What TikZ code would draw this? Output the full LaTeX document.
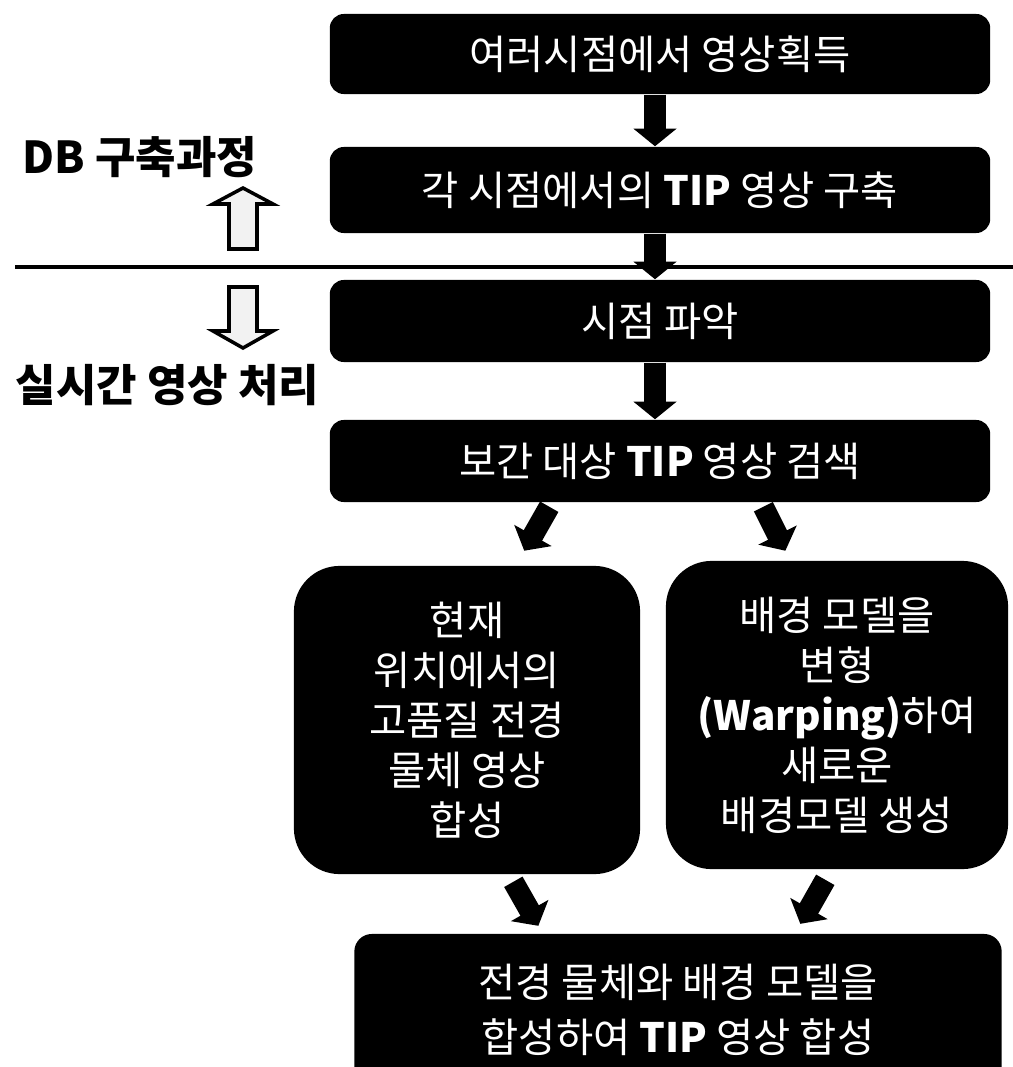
\documentclass[tikz,border=0pt]{standalone}
\usepackage{fontspec}
\setmainfont{Noto Sans CJK KR}
\usetikzlibrary{arrows.meta}
\newcommand\boxfont{\fontsize{11.5}{14.2}\selectfont}
\newcommand\sidefont{\fontsize{12.5}{15}\selectfont\bfseries}
\tikzset{
  stepbox/.style={fill=black, text=white, rounded corners=4pt, inner sep=0pt,
    minimum width=6.6cm, minimum height=0.82cm, font=\boxfont, align=center},
  roundbox/.style={stepbox, rounded corners=13pt},
  flow/.style={line width=6pt, -{Triangle[width=12pt,length=5pt]}},
  hollowarrow/.style={draw=black, line width=1pt, fill=gray!10, line join=miter},
  sidelabel/.style={anchor=west, inner sep=0pt, font=\sidefont},
}
\begin{document}
\begin{tikzpicture}[x=0.01cm, y=-0.01cm]
  \useasboundingbox (0,0) rectangle (1013,1067);

  % DB part
  \node[stepbox, minimum height=0.8cm] (get) at (660,54) {여러시점에서 영상획득};
  \node[stepbox, minimum height=0.86cm] (tip) at (660,190) {각 시점에서의 \textbf{TIP} 영상 구축};
  \draw[flow] ([xshift=-0.05cm]get.south) -- ([xshift=-0.05cm]tip.north);

  % separator
  \coordinate (sepl) at (15,267);
  \coordinate (sepr) at (1013,267);
  \draw[line width=1.4pt] (sepl) -- (sepr);

  % real time part
  \node[stepbox] (view) at (660,321) {시점 파악};
  \node[stepbox] (search) at (660,461) {보간 대상 \textbf{TIP} 영상 검색};
  \draw[flow] ([xshift=-0.05cm]tip.south) -- ([xshift=-0.05cm]view.north);
  \draw[flow] ([xshift=-0.05cm]view.south) -- ([xshift=-0.05cm]search.north);

  \node[roundbox, minimum width=3.46cm, minimum height=3.08cm] (fg) at (467,720)
    {현재\\위치에서의\\고품질 전경\\물체 영상\\합성};
  \node[roundbox, minimum width=3.42cm, minimum height=3.08cm] (bg) at (837,715)
    {배경 모델을\\변형\\\textbf{(Warping)}하여\\새로운\\배경모델 생성};
  \draw[flow] ([xshift=2.2cm,yshift=-0.04cm]search.south west) -- ++(-25,44);
  \draw[flow] ([xshift=4.34cm,yshift=-0.04cm]search.south west) -- ++(22,44);

  \node[roundbox, rounded corners=5pt, minimum width=6.47cm, minimum height=1.52cm,
    font=\fontsize{11.5}{15.5}\selectfont] (merge) at (678,1010)
    {전경 물체와 배경 모델을\\합성하여 \textbf{TIP} 영상 합성};
  \draw[flow] ([xshift=2.2cm,yshift=-0.07cm]fg.south west) -- ++(25,44);
  \draw[flow] ([xshift=1.6cm,yshift=-0.1cm]bg.south west) -- ++(-25,44);

  % side labels
  \node[sidelabel] (dblabel) at (22,157) {DB 구축과정};
  \node[sidelabel] (rtlabel) at (15,385) {실시간 영상 처리};
  \draw[hollowarrow] (229,249) -- (229,204) -- (213,204) -- (243,188) -- (273,204)
    -- (257,204) -- (257,249) -- cycle;
  \draw[hollowarrow] (229,287) -- (229,331) -- (213,331) -- (243,348) -- (273,331)
    -- (257,331) -- (257,287) -- cycle;
\end{tikzpicture}
\end{document}
